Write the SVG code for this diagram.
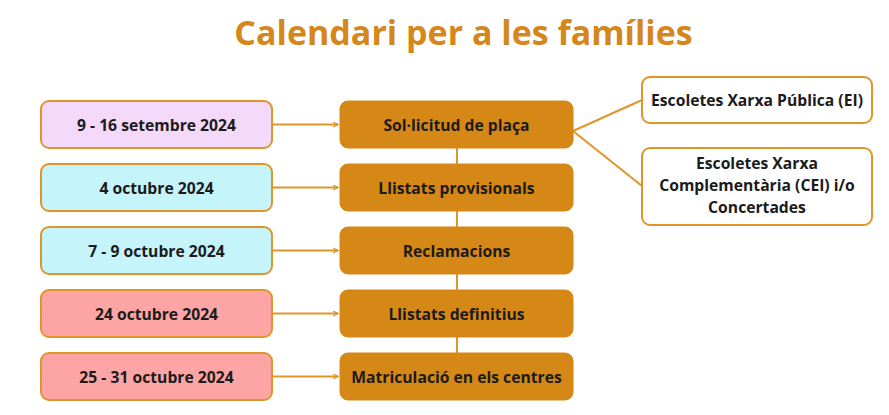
<svg xmlns="http://www.w3.org/2000/svg" width="889" height="415" viewBox="0 0 889 415">
<defs>
<style>
.t{font-family:"Open Sans","Noto Sans","DejaVu Sans",sans-serif;font-weight:700;fill:#1b1b1b;font-size:15.7px;text-anchor:middle;dominant-baseline:central}
.box{stroke:#E0952A;stroke-width:2}
.mid{fill:#D58816;stroke:#D58816;stroke-width:1}
.c{stroke:#E0952A;stroke-width:2;fill:none}
</style>
<marker id="ah" viewBox="0 0 10 10" refX="9" refY="5" markerWidth="6" markerHeight="6" markerUnits="userSpaceOnUse" orient="auto">
<path d="M1,1 L9,5 L1,9" fill="none" stroke="#E0952A" stroke-width="2"/>
</marker>
</defs>
<rect width="889" height="415" fill="#ffffff"/>
<text x="463.5" y="45" style="font-family:'Open Sans','Noto Sans',sans-serif;font-weight:700;font-size:34px;fill:#D4871A;text-anchor:middle">Calendari per a les famílies</text>

<g id="connectors">
<line class="c" x1="457" y1="148" x2="457" y2="353"/>
<line class="c" x1="272" y1="124.5" x2="338" y2="124.5" marker-end="url(#ah)"/>
<line class="c" x1="272" y1="187.5" x2="338" y2="187.5" marker-end="url(#ah)"/>
<line class="c" x1="272" y1="250.5" x2="338" y2="250.5" marker-end="url(#ah)"/>
<line class="c" x1="272" y1="313.5" x2="338" y2="313.5" marker-end="url(#ah)"/>
<line class="c" x1="272" y1="376.5" x2="338" y2="376.5" marker-end="url(#ah)"/>
<line class="c" x1="573" y1="131" x2="642" y2="100"/>
<line class="c" x1="573" y1="131" x2="642" y2="186"/>
</g>

<g id="d1"><rect class="box" x="41" y="101" width="231" height="47" rx="8" fill="#F5D9FB"/><text class="t" x="156.5" y="124.5">9 - 16 setembre 2024</text></g>
<g id="d2"><rect class="box" x="41" y="164" width="231" height="47" rx="8" fill="#C6F4FB"/><text class="t" x="156.5" y="187.5">4 octubre 2024</text></g>
<g id="d3"><rect class="box" x="41" y="227" width="231" height="47" rx="8" fill="#C6F4FB"/><text class="t" x="156.5" y="250.5">7 - 9 octubre 2024</text></g>
<g id="d4"><rect class="box" x="41" y="290" width="231" height="47" rx="8" fill="#FDA5A5"/><text class="t" x="156.5" y="313.5">24 octubre 2024</text></g>
<g id="d5"><rect class="box" x="41" y="353" width="231" height="47" rx="8" fill="#FDA5A5"/><text class="t" x="156.5" y="376.5">25 - 31 octubre 2024</text></g>

<g id="s1"><rect class="mid" x="340" y="101" width="233" height="47" rx="8"/><text class="t" x="456.5" y="124.5">Sol·licitud de plaça</text></g>
<g id="s2"><rect class="mid" x="340" y="164" width="233" height="47" rx="8"/><text class="t" x="456.5" y="187.5">Llistats provisionals</text></g>
<g id="s3"><rect class="mid" x="340" y="227" width="233" height="47" rx="8"/><text class="t" x="456.5" y="250.5">Reclamacions</text></g>
<g id="s4"><rect class="mid" x="340" y="290" width="233" height="47" rx="8"/><text class="t" x="456.5" y="313.5">Llistats definitius</text></g>
<g id="s5"><rect class="mid" x="340" y="353" width="233" height="47" rx="8"/><text class="t" x="456.5" y="376.5">Matriculació en els centres</text></g>

<g id="r1"><rect class="box" x="642" y="77" width="230" height="46" rx="8" fill="#ffffff"/><text class="t" x="757" y="100">Escoletes Xarxa Pública (EI)</text></g>
<g id="r2"><rect class="box" x="642" y="148" width="230" height="77" rx="8" fill="#ffffff"/>
<text class="t" x="757" y="163">Escoletes Xarxa</text>
<text class="t" x="757" y="185">Complementària (CEI) i/o</text>
<text class="t" x="757" y="207">Concertades</text></g>
</svg>
